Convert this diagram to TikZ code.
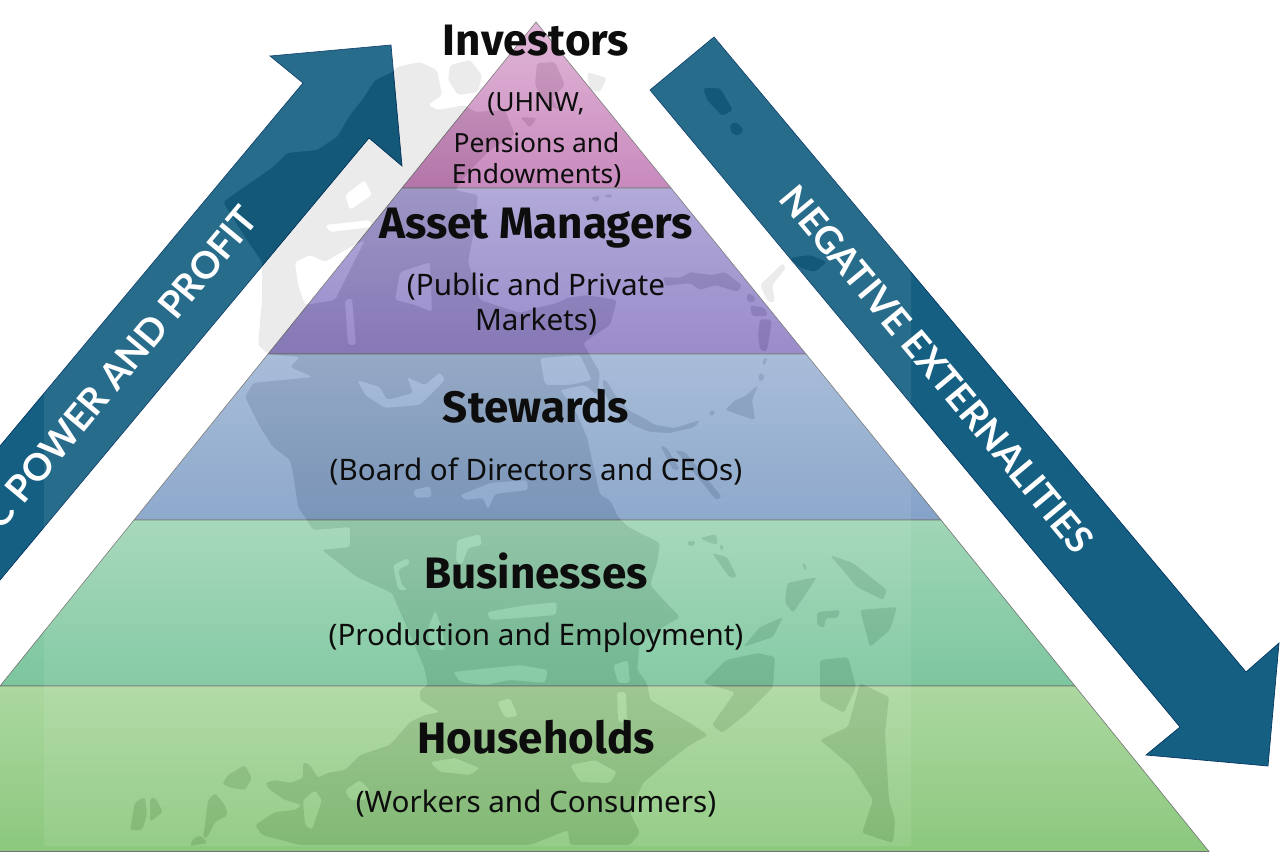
\documentclass[tikz,border=0pt]{standalone}
\usepackage{fontspec}
\setmainfont{Noto Sans}
\newfontfamily\arrowfont{Lato}
\newfontfamily\headfont{Fira Sans}
\def\landpath{
 (350,115)--(362,100)--(375,80)--(393,72)--(397,67)--(420,62)--(437,70)--(442,95)--(428,105)--(438,110)--(465,105)--(475,112)--(505,110)--(515,135)--(490,150)--(470,170)--(455,190)--(478,195)--(475,225)--(468,262)--(480,300)--(520,313)--(540,307)--(557,303)--(567,298)--(587,295)--(617,300)--(610,325)--(583,343)--(600,373)--(597,395)--(585,385)--(560,390)--(575,410)--(587,437)--(592,460)--(600,495)--(610,500)--(618,517)--(628,527)--(660,543)--(657,563)--(650,585)--(670,607)--(680,617)--(667,625)--(640,640)--(637,670)--(647,683)--(650,700)--(690,723)--(708,735)--(690,745)--(670,760)--(643,783)--(630,813)--(640,833)--(630,845)--(570,845)--(568,830)--(530,845)--(300,845)--(262,835)--(255,825)--(275,812)--(295,810)--(302,805)--(285,800)--(270,790)--(265,783)--(275,780)--(290,783)--(303,778)--(303,762)--(310,765)--(318,778)--(327,773)--(345,770)--(360,755)--(390,745)--(410,722)--(425,715)--(440,712)--(420,700)--(420,690)--(428,685)--(424,667)--(392,593)--(357,577)--(322,550)--(350,547)--(350,527)--(313,530)--(307,520)--(298,507)--(293,473)--(290,460)--(273,447)--(260,427)--(245,397)--(253,383)--(313,377)--(290,367)--(300,357)--(268,354)--(258,345)--(262,300)--(262,262)--(247,240)--(223,202)--(240,190)--(273,167)--(287,153)--(317,150)--(337,137)--cycle
 % holes
 (295,262)--(310,255)--(325,262)--(345,250)--(365,240)--(350,270)--(335,300)--(305,305)--(298,285)--cycle
 (345,195)--(365,180)--(372,195)--(350,210)--cycle
 (325,225)--(370,220)--(372,227)--(330,232)--cycle
 (400,272)--(430,262)--(432,312)--(415,305)--(395,300)--cycle
 (345,300)--(352,298)--(356,345)--(348,345)--cycle
 (540,358)--(580,355)--(592,380)--(570,385)--(545,385)--cycle
 (357,380)--(380,387)--(387,400)--(413,393)--(407,377)--(425,385)--(440,372)--(445,380)--(420,405)--(385,408)--(365,395)--cycle
 (413,490)--(430,486)--(432,497)--(415,498)--cycle
 (460,495)--(490,483)--(527,480)--(528,490)--(495,494)--(488,510)--(483,498)--(465,500)--cycle
 (393,565)--(408,558)--(410,564)--(398,570)--(402,585)--(408,590)--(398,590)--cycle
 (457,540)--(480,534)--(482,545)--(468,548)--(462,565)--(456,562)--cycle
 (487,612)--(520,606)--(557,602)--(556,615)--(520,618)--(490,620)--cycle
 (428,628)--(435,610)--(442,628)--(445,650)--(430,650)--cycle
 (453,672)--(490,668)--(520,665)--(548,670)--(545,683)--(510,680)--(485,685)--(460,682)--cycle
 (613,665)--(628,660)--(630,683)--(618,683)--cycle
 (497,702)--(510,698)--(518,716)--(505,718)--cycle
 (617,692)--(626,692)--(627,722)--(618,722)--cycle
 (430,762)--(455,758)--(480,768)--(470,775)--(440,772)--cycle
 (570,765)--(595,760)--(617,772)--(610,783)--(580,782)--cycle
 (303,800)--(315,790)--(322,800)--(312,830)--(305,825)--cycle
 (345,790)--(360,780)--(370,790)--(365,800)--(350,800)--cycle
 % top and western islets
 (450,65)--(470,60)--(482,75)--(478,92)--(458,95)--(448,80)--cycle
 (537,63)--(555,62)--(565,85)--(552,98)--(560,110)--(545,105)--(535,85)--cycle
 (587,72)--(607,78)--(600,92)--(590,90)--cycle
 (520,117)--(537,118)--(530,128)--cycle
 (590,198)--(600,195)--(598,203)--cycle
 (603,195)--(613,194)--(610,199)--cycle
 % right arrow
 (703,88)--(720,88)--(733,110)--(722,116)--(707,100)--cycle
 (730,124)--(737,122)--(744,130)--(738,136)--(731,133)--cycle
 (790,258)--(810,255)--(827,262)--(815,272)--(800,268)--cycle
 (783,263)--(786,268)--(772,285)--(775,302)--(768,302)--(760,285)--cycle
 % arc of islands
 (663,277)--(680,278)--(690,272)--(712,275)--(725,272)--(742,285)--(738,292)--(715,285)--(700,290)--(690,283)--(665,286)--cycle
 (747,293)--(755,296)--(755,302)--(747,302)--cycle
 (750,305)--(765,308)--(768,316)--(752,316)--cycle
 (760,319)--(772,320)--(768,345)--(766,352)--(760,350)--(758,335)--cycle
 (762,360)--(768,357)--(764,367)--cycle
 (760,372)--(765,376)--(762,382)--(758,380)--cycle
 (744,397)--(758,385)--(752,400)--(755,420)--(740,415)--(725,410)--(735,400)--cycle
 (708,412)--(716,410)--(712,417)--cycle
 (606,380)--(615,395)--(628,410)--(642,417)--(655,425)--(675,428)--(700,420)--(695,427)--(670,433)--(650,432)--(632,425)--(618,412)--(606,397)--(602,380)--cycle
 % eastern islands
 (660,445)--(667,448)--(680,470)--(673,470)--cycle
 (675,450)--(685,452)--(722,497)--(716,500)--(700,480)--cycle
 (687,541)--(696,541)--(694,546)--(688,546)--cycle
 (700,538)--(716,534)--(718,545)--(708,542)--cycle
 (712,553)--(727,557)--(737,577)--(730,578)--cycle
 (719,545)--(724,545)--(722,552)--cycle
 (787,583)--(817,577)--(793,613)--(785,603)--cycle
 (802,562)--(807,566)--(805,572)--cycle
 (817,612)--(840,610)--(838,618)--(826,618)--(824,628)--(817,625)--cycle
 (860,610)--(897,607)--(890,630)--(870,647)--cycle
 (830,555)--(853,563)--(887,590)--(883,600)--(857,587)--cycle
 (760,627)--(783,617)--(773,637)--(743,647)--cycle
 (703,683)--(726,660)--(758,653)--(775,657)--(773,687)--(745,715)--(722,733)--(712,725)--(735,692)--cycle
 (820,660)--(848,657)--(856,687)--(844,713)--(820,700)--cycle
 (860,683)--(889,697)--(885,733)--(889,800)--(895,820)--(893,843)--(862,833)--(873,800)--(852,767)--(820,740)--(848,727)--cycle
 % south-western islands
 (228,775)--(245,765)--(252,778)--(245,790)--(232,788)--(222,784)--cycle
 (205,825)--(208,800)--(215,793)--(225,805)--(228,815)--(215,822)--(207,838)--(203,838)--cycle
 (135,802)--(145,797)--(147,815)--(142,830)--(130,830)--cycle
 (150,798)--(155,797)--(163,812)--(150,822)--cycle
 (192,840)--(200,835)--(208,843)--(190,846)--cycle
}
\tikzset{
 tier/.style={draw=black!55,line width=.45pt},
 bigarrow/.style={draw=black!70!blue!60!teal,line width=.5pt,fill=arrowblue},
 head/.style={font=\headfont\bfseries\fontsize{33}{33}\selectfont,text=inkc,anchor=base,inner sep=0pt},
 sub/.style={font=\fontsize{22.2}{22.2}\selectfont,text=inkc,anchor=base,inner sep=0pt},
 smallsub/.style={font=\fontsize{19.8}{19.8}\selectfont,text=inkc,anchor=base,inner sep=0pt},
 arrowlabel/.style={font=\arrowfont\bfseries\fontsize{28}{28}\selectfont,text=white,inner sep=0pt},
}
\definecolor{arrowblue}{HTML}{156082}
\definecolor{inkc}{HTML}{0D0D0D}
\begin{document}
\begin{tikzpicture}[x=0.75pt,y=-0.75pt]
\useasboundingbox (0,0) rectangle (1280,853);
% pyramid tiers
\path[tier,top color={rgb,255:red,222;green,176;blue,212},bottom color={rgb,255:red,196;green,128;blue,184}] (536,22)--(671,188)--(402,188)--cycle;
\path[tier,top color={rgb,255:red,172;green,163;blue,214},bottom color={rgb,255:red,146;green,130;blue,198}] (402,188)--(671,188)--(806,354)--(268,354)--cycle;
\path[tier,top color={rgb,255:red,162;green,184;blue,214},bottom color={rgb,255:red,132;green,162;blue,200}] (268,354)--(806,354)--(941,520)--(134,520)--cycle;
\path[tier,top color={rgb,255:red,160;green,214;blue,182},bottom color={rgb,255:red,124;green,198;blue,158}] (134,520)--(941,520)--(1075,686)--(0,686)--cycle;
\path[tier,top color={rgb,255:red,172;green,216;blue,160},bottom color={rgb,255:red,140;green,200;blue,126}] (0,686)--(1075,686)--(1209,851.5)--(-134,851.5)--cycle;
% block arrows
\path[bigarrow] (369,138)--(402,166)--(391,45)--(270,56)--(303,83)--(-10,458)--(-10,592)--cycle;
\path[bigarrow] (714,37)--(650,90)--(1180,727)--(1146,755)--(1268,766)--(1279,643)--(1246,672)--cycle;
% faint map overlay
\fill[white,opacity=.08,even odd rule,rounded corners=2.2pt] (44,20) rectangle (911,846) \landpath;
\fill[black,opacity=.08,even odd rule,rounded corners=2.2pt] \landpath;
% labels
\node[head] (investors) at (536,55) {Investors};
\node[smallsub] (uhnw) at (536,111) {(UHNW,};
\node[smallsub] (pensions) at (536.5,152) {Pensions and};
\node[smallsub] (endow) at (536.5,183) {Endowments)};
\node[head] (asset) at (536,238) {Asset Managers};
\node[sub] (public) at (536,295) {(Public and Private};
\node[sub] (markets) at (536,330) {Markets)};
\node[head] (stewards) at (536,422) {Stewards};
\node[sub] (board) at (536,480) {(Board of Directors and CEOs)};
\node[head] (business) at (536,588) {Businesses};
\node[sub] (production) at (536,645) {(Production and Employment)};
\node[head] (households) at (536,753) {Households};
\node[sub] (workers) at (536,812) {(Workers and Consumers)};
\node[arrowlabel,rotate=50.2,anchor=east] (power) at (250,212) {C POWER AND PROFIT};
\node[arrowlabel,rotate=-50.2] (negative) at (937,369) {NEGATIVE EXTERNALITIES};
\end{tikzpicture}
\end{document}
